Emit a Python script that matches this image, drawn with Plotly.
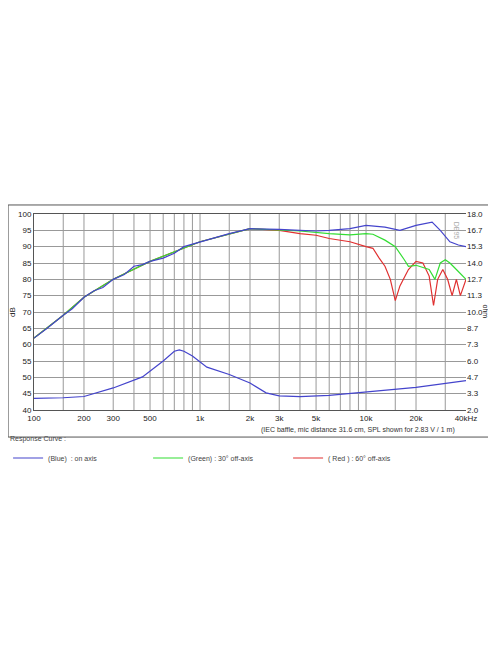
import plotly.graph_objects as go

# frequency (Hz) / SPL (dB)
f_blue = [100, 120, 150, 170, 200, 230, 260, 300, 350, 400, 450, 500, 600, 700, 800, 1000, 1200, 1500, 2000,
          2500, 3000, 4000, 5000, 6000, 8000, 10000, 13000, 16000, 20000, 25000, 28000, 32000, 36000, 40000]
spl_blue = [62, 65, 69, 71, 74.5, 76.5, 77.5, 80, 81.5, 84, 84.5, 85.5, 86.5, 88, 90, 91.5, 92.5, 94, 95.5,
            95.5, 95.3, 95, 94.8, 95, 95.5, 96.5, 96, 95, 96.5, 97.5, 95, 91.5, 90.5, 90]

f_green = [100, 150, 200, 300, 500, 1000, 2000, 3000, 4000, 6000, 8000, 10000, 11000, 13000, 15000, 17000,
           18000, 20000, 24000, 26000, 28000, 30000, 32000, 35000, 40000]
spl_green = [62, 69, 74.5, 80, 85.5, 91.5, 95.5, 95, 94.8, 94, 93.6, 94, 93.8, 92, 90, 86, 84, 84.3, 83, 80,
             85, 86, 85, 83, 80]

f_red = [100, 150, 200, 300, 500, 1000, 2000, 3000, 4000, 5000, 6000, 8000, 10000, 11000, 12000, 13000, 14000,
         15000, 16000, 18000, 20000, 22000, 24000, 25500, 27000, 29000, 31000, 33000, 35000, 37000, 40000]
spl_red = [62, 69, 74.5, 80, 85.5, 91.5, 95.5, 95, 94, 93.5, 92.5, 91.5, 90, 89.5, 86.5, 84, 80, 73.5, 78, 83,
           85.5, 85, 81, 72, 80, 83, 80, 75, 80, 75, 80]

# impedance (ohm)
f_imp = [100, 150, 200, 300, 450, 600, 700, 750, 800, 900, 1100, 1500, 2000, 2500, 3000, 4000, 6000,
         10000, 20000, 40000]
ohm_imp = [2.95, 3.0, 3.1, 3.8, 4.7, 6.0, 6.8, 6.9, 6.8, 6.4, 5.5, 4.9, 4.2, 3.4, 3.15, 3.1, 3.2,
           3.45, 3.85, 4.4]

ohm_ticks = ["2.0", "3.3", "4.7", "6.0", "7.3", "8.7", "10.0", "11.3", "12.7", "14.0", "15.3", "16.7", "18.0"]
x_ticks = [100, 200, 300, 500, 1000, 2000, 3000, 5000, 10000, 20000, 40000]
x_labels = ["100", "200", "300", "500", "1k", "2k", "3k", "5k", "10k", "20k", "40kHz"]
grid_f = [150, 200, 300, 400, 500, 600, 700, 800, 900, 1000, 1500, 2000, 3000, 4000, 5000, 6000, 7000,
          8000, 9000, 10000, 15000, 20000, 30000]

fig = go.Figure()
fig.add_trace(go.Scatter(x=f_imp, y=ohm_imp, yaxis="y2", mode="lines", line=dict(color="#4444cc", width=1.2),
                         showlegend=False))
fig.add_trace(go.Scatter(x=f_blue, y=spl_blue, mode="lines", line=dict(color="#4444cc", width=1.2),
                         name="(Blue)  : on axis"))
fig.add_trace(go.Scatter(x=f_green, y=spl_green, mode="lines", line=dict(color="#33dd33", width=1.2),
                         name="(Green) : 30° off-axis"))
fig.add_trace(go.Scatter(x=f_red, y=spl_red, mode="lines", line=dict(color="#e03030", width=1.2),
                         name="( Red ) : 60° off-axis"))
# draw blue on top
fig.data = (fig.data[0], fig.data[3], fig.data[2], fig.data[1])

for g in grid_f:
    fig.add_shape(type="line", x0=g, x1=g, y0=0, y1=1, xref="x", yref="paper",
                  line=dict(color="#999999", width=1), layer="below")

fig.add_shape(type="rect", xref="paper", yref="paper", x0=-0.06, x1=1.06, y0=-0.138, y1=1.046,
              line=dict(color="#555555", width=1))

fig.add_annotation(text="(IEC baffle, mic distance 31.6 cm, SPL shown for 2.83 V / 1 m)", xref="paper",
                   yref="paper", x=0.98, y=-0.1, xanchor="right", yanchor="middle", showarrow=False,
                   font=dict(size=7, color="#333333"))
fig.add_annotation(text="Response Curve :", xref="paper", yref="paper", x=-0.06, y=-0.18, xanchor="left",
                   showarrow=False, font=dict(size=7, color="#444444"))
fig.add_annotation(text="DB95", xref="paper", yref="paper", x=0.99, y=0.97, textangle=90, showarrow=False,
                   font=dict(size=7, color="#aaaaaa"))
fig.add_annotation(text="ohm", xref="paper", yref="paper", x=1.06, y=0.5, textangle=90, showarrow=False,
                   font=dict(size=7, color="#222222"))

fig.update_layout(
    width=496, height=664, margin=dict(l=26, r=38, t=206, b=262, autoexpand=False),
    paper_bgcolor="white", plot_bgcolor="white",
    font=dict(family="Liberation Sans", size=8, color="#222222"),
    xaxis=dict(type="log", range=[2, 4.60206], tickvals=x_ticks, ticktext=x_labels, showgrid=False,
               showline=True, linecolor="#555555", mirror=True, tickfont=dict(size=8, color="#222222"),
               ticks="", automargin=False),
    yaxis=dict(range=[40, 100], dtick=5, gridcolor="#999999", showline=True, linecolor="#555555",
               title=dict(text="dB", standoff=2, font=dict(size=8)), tickfont=dict(size=8), zeroline=False,
               automargin=False),
    yaxis2=dict(range=[2, 18], overlaying="y", side="right", tickvals=[2 + i * 16 / 12 for i in range(13)],
                ticktext=ohm_ticks, showgrid=False, tickfont=dict(size=8), zeroline=False, automargin=False),
    legend=dict(orientation="h", x=-0.06, y=-0.245, xanchor="left", yanchor="middle", entrywidth=95,
                font=dict(size=7, color="#444444"), itemwidth=30, traceorder="reversed"),
)

fig.write_html("out.html")
